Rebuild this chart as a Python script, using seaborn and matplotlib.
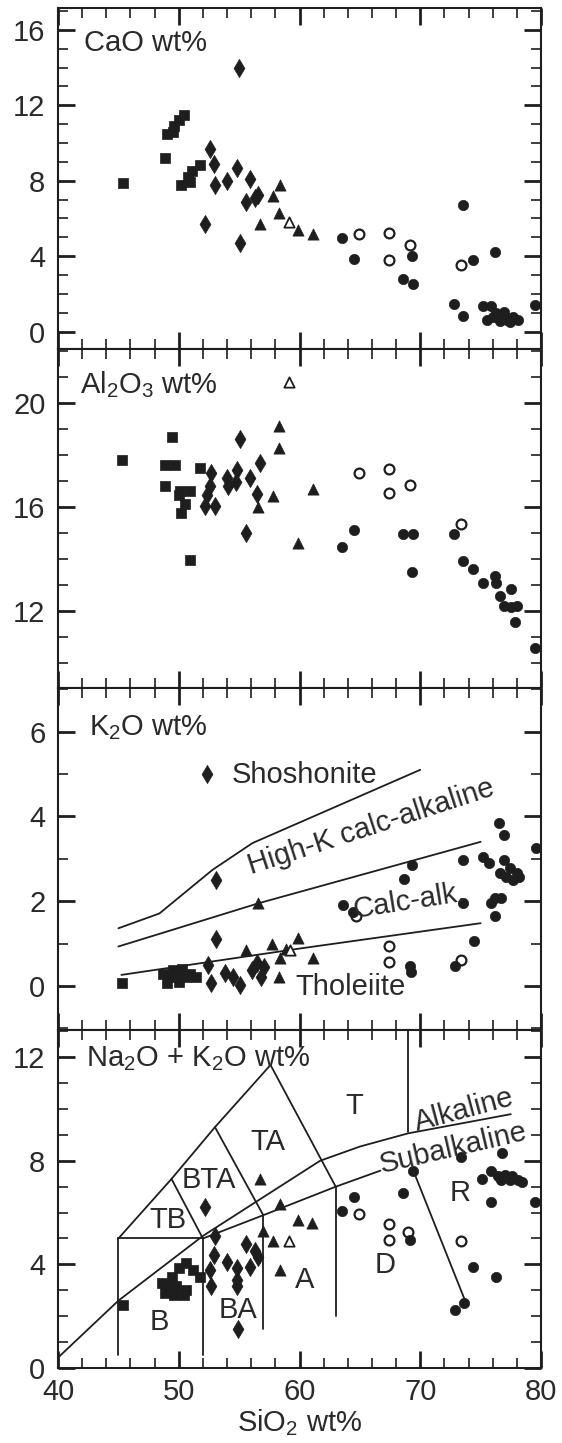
import matplotlib
matplotlib.use("Agg")
import matplotlib.pyplot as plt
from matplotlib.ticker import MultipleLocator
import seaborn as sns
import pandas as pd

# ---- data (SiO2 wt%, oxide wt%) ----
cao_square = [(45.4, 7.9), (48.9, 9.2), (49.0, 10.5), (49.5, 10.6), (49.6, 10.9), (50.0, 11.2),
              (50.4, 11.5), (50.2, 7.8), (50.8, 8.2), (51.1, 8.5), (50.9, 7.95), (51.8, 8.85)]
cao_diamond = [(55.0, 14.0), (52.6, 9.7), (52.9, 8.9), (53.0, 7.8), (54.0, 8.0), (54.8, 8.7),
               (55.9, 8.1), (55.6, 6.9), (56.6, 7.25), (56.3, 7.1), (52.2, 5.7), (55.1, 4.7)]
cao_triangle = [(58.4, 7.8), (57.8, 7.2), (56.7, 5.7), (58.3, 6.3), (59.9, 5.4), (61.1, 5.2)]
cao_open_tri = [(59.1, 5.8)]
cao_open_circle = [(64.9, 5.2), (67.4, 5.25), (67.4, 3.8), (69.15, 4.6), (73.35, 3.55)]
cao_circle = [(63.5, 4.95), (64.5, 3.85), (69.3, 4.0), (68.6, 2.8), (69.4, 2.55), (73.5, 6.7),
              (74.4, 3.8), (76.2, 4.2), (72.8, 1.45), (73.5, 0.85), (75.2, 1.35), (75.9, 1.35),
              (75.5, 0.6), (76.3, 1.0), (76.9, 1.05), (77.2, 0.6), (77.7, 0.8), (78.1, 0.6),
              (76.6, 0.55), (77.4, 0.5), (76.0, 0.8), (79.5, 1.4)]

al_square = [(45.3, 17.8), (49.4, 18.7), (48.9, 17.6), (49.7, 17.6), (51.8, 17.5), (48.9, 16.8),
             (50.0, 16.45), (50.9, 16.6), (50.5, 16.1), (50.2, 15.75), (50.9, 13.95), (50.1, 16.6)]
al_diamond = [(55.1, 18.6), (56.7, 17.7), (52.7, 17.3), (52.3, 16.45), (53.0, 16.05), (54.0, 17.1),
              (54.8, 17.4), (54.7, 16.95), (55.9, 17.1), (56.45, 16.5), (55.6, 15.0), (52.2, 16.05),
              (52.6, 16.8), (54.1, 16.8)]
al_triangle = [(58.3, 19.1), (58.3, 18.25), (61.1, 16.7), (59.9, 14.6), (57.8, 16.4), (56.6, 16.0)]
al_open_tri = [(59.1, 20.8)]
al_open_circle = [(64.9, 17.3), (67.4, 17.45), (67.4, 16.55), (69.15, 16.85), (73.4, 15.35)]
al_circle = [(64.5, 15.1), (63.5, 14.45), (68.6, 14.95), (69.4, 14.95), (69.3, 13.5), (72.8, 14.95),
             (73.5, 13.9), (74.4, 13.6), (75.2, 13.05), (76.2, 13.35), (76.3, 13.05), (76.6, 12.55),
             (77.5, 12.85), (76.9, 12.2), (78.0, 12.2), (77.5, 12.15), (77.85, 11.55), (79.5, 10.55)]

k_square = [(45.3, 0.06), (48.7, 0.29), (49.2, 0.21), (49.8, 0.33), (50.3, 0.41), (50.9, 0.29),
            (51.4, 0.21), (49.0, 0.06), (50.0, 0.1), (50.6, 0.21), (49.5, 0.37)]
k_diamond = [(52.3, 5.0), (53.05, 2.5), (53.05, 1.1), (52.45, 0.5), (52.7, 0.06), (53.8, 0.3),
             (54.5, 0.22), (55.1, 0.02), (56.1, 0.37), (56.45, 0.54), (56.8, 0.22), (57.1, 0.45)]
k_triangle = [(56.6, 1.95), (55.6, 0.85), (57.7, 1.0), (58.4, 0.65), (59.9, 1.13), (61.1, 0.65),
              (58.3, 0.22), (58.9, 0.87)]
k_open_tri = [(59.2, 0.85)]
k_open_circle = [(64.7, 1.64), (67.45, 0.94), (67.45, 0.57), (73.4, 0.61)]
k_circle = [(69.3, 2.86), (68.65, 2.52), (63.6, 1.91), (64.45, 1.75), (69.15, 0.46), (69.2, 0.34),
            (73.5, 2.97), (73.5, 1.95), (74.45, 1.05), (72.9, 0.46), (76.5, 3.85), (76.9, 3.56),
            (75.2, 3.05), (75.7, 2.9), (76.9, 2.97), (77.4, 2.78), (78.0, 2.66), (77.7, 2.5),
            (76.6, 2.66), (78.2, 2.58), (77.1, 2.58), (76.2, 2.07), (76.7, 2.07), (75.9, 1.95),
            (76.2, 1.64), (79.6, 3.25)]

tas_square = [(45.4, 2.45), (49.0, 3.2), (49.4, 3.5), (50.0, 3.85), (50.6, 4.05), (51.2, 3.8),
              (51.8, 3.5), (48.9, 2.9), (49.6, 2.8), (50.4, 2.8), (50.6, 3.0), (49.8, 3.15), (48.6, 3.3)]
tas_diamond = [(52.2, 6.2), (53.0, 5.1), (52.9, 4.35), (52.6, 3.8), (52.7, 3.15), (54.0, 4.1),
               (54.8, 3.85), (54.8, 3.4), (54.8, 3.15), (55.6, 4.8), (55.9, 3.9), (56.3, 4.5),
               (56.6, 4.3), (54.9, 1.5)]
tas_triangle = [(57.0, 5.3), (57.8, 4.9), (58.4, 3.8), (59.9, 5.7), (61.0, 5.6), (58.4, 6.35), (56.7, 7.3)]
tas_open_tri = [(59.1, 4.9)]
tas_open_circle = [(64.9, 5.95), (67.4, 5.55), (67.45, 4.95), (69.0, 5.25), (73.4, 4.9)]
tas_circle = [(64.5, 6.6), (63.5, 6.05), (68.6, 6.75), (69.15, 4.95), (69.4, 7.6), (73.4, 8.15),
              (76.8, 8.3), (74.4, 3.9), (76.3, 3.5), (75.9, 6.4), (79.5, 6.4), (75.1, 7.3),
              (75.9, 7.6), (76.4, 7.4), (77.0, 7.45), (77.4, 7.25), (78.1, 7.25), (78.4, 7.2),
              (76.7, 7.25), (77.6, 7.4), (72.9, 2.25), (73.6, 2.5)]

# K2O series boundaries
k2o_lines = {
    "shoshonite": [(45.0, 1.36), (48.4, 1.71), (52.8, 2.74), (56.1, 3.37), (70.0, 5.1)],
    "high_k": [(45.0, 0.93), (56.6, 1.95), (75.0, 3.4)],
    "calc_alk": [(45.25, 0.26), (60.2, 0.89), (75.0, 1.48)],
}

# TAS field boundaries + alkaline / subalkaline divides
tas_lines = {
    "b_left": [(45, 0.5), (45, 5)],
    "b_top": [(45, 5), (52, 5)],
    "ba_left": [(52, 0.5), (52, 5)],
    "a_left": [(57, 1.5), (57, 5.9)],
    "d_left": [(63, 2.0), (63, 7)],
    "outer": [(45, 5), (49.4, 7.3), (53, 9.3), (57.6, 11.7)],
    "tb_bta": [(49.4, 7.3), (52, 5)],
    "bta_ta": [(53, 9.3), (57, 5.9)],
    "ta_t": [(57.6, 11.7), (63, 7)],
    "subalk": [(52, 5), (57, 5.9), (63, 7), (66.7, 7.62)],
    "d_r": [(69.4, 7.65), (73.8, 2.5)],
    "t_r": [(69, 9.1), (69, 13.1)],
    "alk": [(40, 0.4), (45, 2.6), (52, 5.1), (61.7, 8.0), (65, 8.55), (69, 9.06), (77.5, 9.8)],
}

INK = "#1e1e1e"
TXT = "#2a2a2a"

sns.set_style("ticks")
plt.rcParams["font.family"] = ["Liberation Sans", "DejaVu Sans"]
plt.rcParams["mathtext.fontset"] = "custom"
plt.rcParams["mathtext.rm"] = "Liberation Sans"
plt.rcParams["mathtext.default"] = "regular"
plt.rcParams["axes.linewidth"] = 1.5
plt.rcParams["axes.edgecolor"] = INK

STYLES = {
    "square": dict(marker="s", s=55, color=INK, edgecolor=INK, linewidth=0.5),
    "diamond": dict(marker="d", s=85, color=INK, edgecolor=INK, linewidth=0.5),
    "triangle": dict(marker="^", s=65, color=INK, edgecolor=INK, linewidth=0.5),
    "open_tri": dict(marker="^", s=55, facecolor="white", edgecolor=INK, linewidth=1.3),
    "open_circle": dict(marker="o", s=50, facecolor="white", edgecolor=INK, linewidth=1.6),
    "circle": dict(marker="o", s=55, color=INK, edgecolor=INK, linewidth=0.5),
}


def frame(groups):
    rows = []
    for name, pts in groups.items():
        for x, y in pts:
            rows.append({"group": name, "sio2": x, "val": y})
    return pd.DataFrame(rows)


def line_frame(lines):
    rows = []
    for seg, pts in lines.items():
        for i, (x, y) in enumerate(pts):
            rows.append({"seg": seg, "order": i, "x": x, "y": y})
    return pd.DataFrame(rows)


panels = [
    dict(title="CaO wt%", ylim=(-0.92, 17.16), major=4, tx=0.054, ty=0.897,
         data=frame({"square": cao_square, "diamond": cao_diamond, "triangle": cao_triangle,
                     "open_tri": cao_open_tri, "open_circle": cao_open_circle, "circle": cao_circle})),
    dict(title="Al$_2$O$_3$ wt%", ylim=(9.03, 22.07), major=4, tx=0.046, ty=0.894,
         data=frame({"square": al_square, "diamond": al_diamond, "triangle": al_triangle,
                     "open_tri": al_open_tri, "open_circle": al_open_circle, "circle": al_circle})),
    dict(title="K$_2$O wt%", ylim=(-1.04, 7.03), major=2, tx=0.064, ty=0.883,
         data=frame({"square": k_square, "diamond": k_diamond, "triangle": k_triangle,
                     "open_tri": k_open_tri, "open_circle": k_open_circle, "circle": k_circle})),
    dict(title="Na$_2$O + K$_2$O wt%", ylim=(0, 13.05), major=4, tx=0.057, ty=0.914,
         data=frame({"square": tas_square, "diamond": tas_diamond, "triangle": tas_triangle,
                     "open_tri": tas_open_tri, "open_circle": tas_open_circle, "circle": tas_circle})),
]

W, H = 562, 1443
fig = plt.figure(figsize=(W / 100, H / 100), dpi=100)
edges = [8, 349, 688, 1030, 1368]
left, right = 58, 541

axes = []
for i, p in enumerate(panels):
    top_px, bot_px = edges[i], edges[i + 1]
    ax = fig.add_axes([left / W, 1 - bot_px / H, (right - left) / W, (bot_px - top_px) / H])
    axes.append(ax)

    if i == 2:
        sns.lineplot(data=line_frame(k2o_lines), x="x", y="y", units="seg", estimator=None,
                     sort=False, color=INK, lw=1.3, ax=ax, legend=False)
    if i == 3:
        sns.lineplot(data=line_frame(tas_lines), x="x", y="y", units="seg", estimator=None,
                     sort=False, color=INK, lw=1.3, ax=ax, legend=False)

    df = p["data"]
    for g, kw in STYLES.items():
        sub = df[df["group"] == g]
        if len(sub):
            sns.scatterplot(data=sub, x="sio2", y="val", ax=ax, legend=False, zorder=3, **kw)

    ax.set_xlim(40, 80)
    ax.set_ylim(*p["ylim"])
    ax.xaxis.set_major_locator(MultipleLocator(10))
    ax.xaxis.set_minor_locator(MultipleLocator(2))
    ax.yaxis.set_major_locator(MultipleLocator(p["major"]))
    ax.yaxis.set_minor_locator(MultipleLocator(1))
    ax.tick_params(which="major", direction="in", length=12, width=2.0, top=True, right=True,
                   labelsize=21, colors=INK, labelcolor=TXT)
    ax.tick_params(axis="y", which="major", pad=9)
    ax.tick_params(axis="x", which="major", pad=7)
    ax.tick_params(which="minor", direction="in", length=7, width=1.2, top=True, right=True,
                   colors=INK)
    ax.set_xlabel("")
    ax.set_ylabel("")
    if i < 3:
        ax.tick_params(labelbottom=False)
    ax.text(p["tx"], p["ty"], p["title"], transform=ax.transAxes, ha="left", va="center",
            fontsize=21, color=TXT)

# K2O series labels
axk = axes[2]
axk.text(60.4, 4.98, "Shoshonite", ha="center", va="center", fontsize=21, color=TXT)
axk.text(65.9, 3.76, "High-K calc-alkaline", ha="center", va="center", fontsize=21, color=TXT,
         rotation=18, rotation_mode="anchor")
axk.text(69.1, 1.99, "Calc-alk.", ha="center", va="center", fontsize=21, color=TXT,
         rotation=9, rotation_mode="anchor")
axk.text(64.2, -0.02, "Tholeiite", ha="center", va="center", fontsize=21, color=TXT)

# TAS field labels
axt = axes[3]
for lab, x, y in [("T", 64.5, 10.1), ("TA", 57.4, 8.74), ("BTA", 52.5, 7.26), ("TB", 49.1, 5.71),
                  ("B", 48.4, 1.79), ("BA", 54.9, 2.24), ("A", 60.4, 3.4), ("D", 67.1, 3.98),
                  ("R", 73.3, 6.74)]:
    axt.text(x, y, lab, ha="center", va="center", fontsize=21, color=TXT)
axt.text(73.6, 9.95, "Alkaline", ha="center", va="center", fontsize=21, color=TXT,
         rotation=15, rotation_mode="anchor")
axt.text(72.7, 8.5, "Subalkaline", ha="center", va="center", fontsize=21, color=TXT,
         rotation=13, rotation_mode="anchor")
axt.set_xlabel("SiO$_2$ wt%", fontsize=21, color=TXT, labelpad=1)

fig.savefig("out.png", dpi=100, facecolor="white")
